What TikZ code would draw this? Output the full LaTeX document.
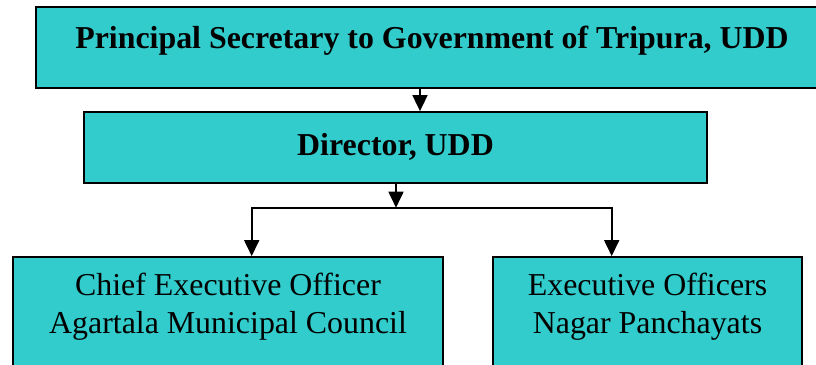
\documentclass[tikz,border=0pt]{standalone}
\usepackage{fontspec}
\setmainfont{Liberation Serif}
\usetikzlibrary{arrows.meta}
\definecolor{udcyan}{RGB}{51,204,204}
\begin{document}
\begin{tikzpicture}[x=1bp, y=-1bp, line width=1.8bp, >={Triangle[width=15bp,length=16bp]},
  main node/.style={rectangle,draw,fill=udcyan,inner sep=0pt,align=center,font=\fontsize{32}{38}\selectfont},
  head node/.style={main node,font=\fontsize{32}{38}\selectfont\bfseries}]
\useasboundingbox (0,0) rectangle (816,364);
\begin{scope}
\node[head node, minimum width=792bp, minimum height=81bp, text height=22bp, text depth=21bp] (psec) at (432,47.5) {Principal Secretary to Government of Tripura, UDD};%top
\node[head node, minimum width=623bp, minimum height=71bp, text height=22bp, text depth=7bp] (dir) at (395.5,147.5) {Director, UDD};%director
\node[main node, minimum width=430bp, minimum height=117bp, text height=60bp, text depth=25bp] (ceo) at (228,315.5) {Chief Executive Officer\\Agartala Municipal Council};%left
\node[main node, minimum width=309bp, minimum height=117bp, text height=60bp, text depth=25bp] (eo) at (647.5,315.5) {Executive Officers\\Nagar Panchayats};%right
\end{scope}
\coordinate (c1) at (420,0);
\coordinate (fork) at (396,207.7);
\coordinate (lft) at (251.7,207.7);
\coordinate (rgt) at (611.7,207.7);
\begin{scope}[every edge/.style={draw=black,line width=1.8bp}]
\draw (psec.south -| c1) edge[->] (dir.north -| c1);
\draw (dir.south -| fork) edge[->] (fork);
\draw[<->] (ceo.north -| lft) -- (lft) -- (rgt) -- (eo.north -| rgt);
\end{scope}
\end{tikzpicture}
\end{document}
